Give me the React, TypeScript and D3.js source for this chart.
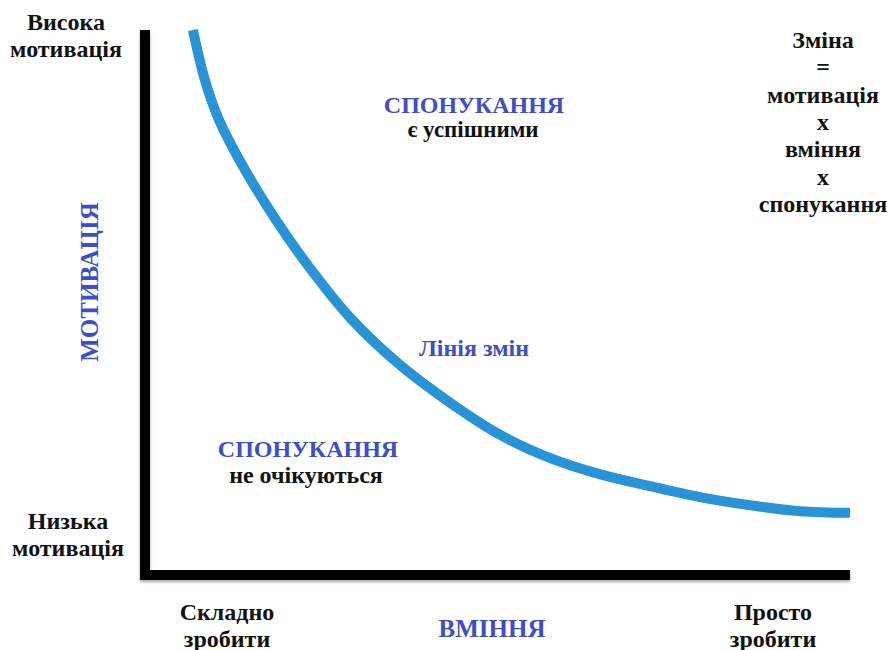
import React from "react";
import * as d3 from "d3";

// Curve (Лінія змін): skill (0..100) vs motivation (0..100)
const curveSkill = [6.8, 8.5, 10.5, 14.2, 18.6, 23.4, 29.1, 36.2, 43.3, 50.4, 57.4, 64.5, 71.6, 78.7, 85.8, 92.9, 100];
const curveMotivation = [100, 90.8, 83.5, 74.3, 65.1, 56.3, 47.2, 38.5, 31.6, 25.7, 21.5, 18.5, 16.3, 14.3, 12.8, 11.7, 11.4];

const yAxisLabel = "МОТИВАЦІЯ";
const xAxisLabel = "ВМІННЯ";
const highMotivation = ["Висока", "мотивація"];
const lowMotivation = ["Низька", "мотивація"];
const hardToDo = ["Складно", "зробити"];
const easyToDo = ["Просто", "зробити"];
const formula = ["Зміна", "=", "мотивація", "х", "вміння", "х", "спонукання"];

const W = 890;
const H = 650;
const BLUE_TEXT = "#3d4ec6";
const CURVE = "#2a93d5";
const FONT = "Liberation Serif";

function T(props: any) {
  const { children, ...rest } = props;
  return (
    <text fontFamily={FONT} fontWeight={700} textAnchor="middle" {...rest}>
      {children}
    </text>
  );
}

export default function App() {
  const x = d3.scaleLinear().domain([0, 100]).range([145, 850]);
  const y = d3.scaleLinear().domain([0, 100]).range([575, 30]);
  const pts = curveSkill.map((s, i) => [s, curveMotivation[i]] as [number, number]);
  const line = d3
    .line<[number, number]>()
    .x((d) => x(d[0]))
    .y((d) => y(d[1]))
    .curve(d3.curveCatmullRom.alpha(0.5));

  return (
    <svg
      width={W}
      height={H}
      style={{ position: "absolute", left: 0, top: 0, background: "#fff" }}
    >
      <defs>
        <filter id="shadow" x="-5%" y="-50%" width="110%" height="300%">
          <feGaussianBlur in="SourceAlpha" stdDeviation="1.5" />
          <feOffset dx="0" dy="2" result="b" />
          <feComponentTransfer>
            <feFuncA type="linear" slope="0.35" />
          </feComponentTransfer>
          <feMerge>
            <feMergeNode />
            <feMergeNode in="SourceGraphic" />
          </feMerge>
        </filter>
      </defs>
      <rect width={W} height={H} fill="#fff" />

      {/* axes */}
      <g filter="url(#shadow)">
        <line x1={x(0)} x2={x(0)} y1={y(100)} y2={y(0) + 5} stroke="#000" strokeWidth={10} />
        <line x1={x(0) - 5} x2={x(100)} y1={y(0)} y2={y(0)} stroke="#000" strokeWidth={10} />
      </g>

      {/* curve */}
      <path d={line(pts) || ""} fill="none" stroke={CURVE} strokeWidth={10} />

      {/* corner labels */}
      {highMotivation.map((t, i) => (
        <T key={"h" + i} x={66} y={30 + i * 27} fontSize={24} fill="#111">{t}</T>
      ))}
      {lowMotivation.map((t, i) => (
        <T key={"l" + i} x={68} y={529 + i * 27} fontSize={24} fill="#111">{t}</T>
      ))}
      {hardToDo.map((t, i) => (
        <T key={"s" + i} x={227} y={620 + i * 27} fontSize={24} fill="#111">{t}</T>
      ))}
      {easyToDo.map((t, i) => (
        <T key={"p" + i} x={773} y={620 + i * 27} fontSize={24} fill="#111">{t}</T>
      ))}
      {formula.map((t, i) => (
        <T key={"f" + i} x={823} y={48 + i * 27.3} fontSize={24} fill="#111">{t}</T>
      ))}

      {/* axis titles */}
      <T x={492} y={637} fontSize={25} fill={BLUE_TEXT}>{xAxisLabel}</T>
      <T transform={`translate(98,282) rotate(-90)`} fontSize={25} fill={BLUE_TEXT}>
        {yAxisLabel}
      </T>

      {/* region labels */}
      <T x={474} y={113} fontSize={24} fill={BLUE_TEXT}>СПОНУКАННЯ</T>
      <T x={473} y={137} fontSize={23} fill="#111">є успішними</T>
      <T x={308} y={457} fontSize={24} fill={BLUE_TEXT}>СПОНУКАННЯ</T>
      <T x={306} y={483} fontSize={24} fill="#111">не очікуються</T>
      <T x={474} y={356} fontSize={24} fill={BLUE_TEXT}>Лінія змін</T>
    </svg>
  );
}
